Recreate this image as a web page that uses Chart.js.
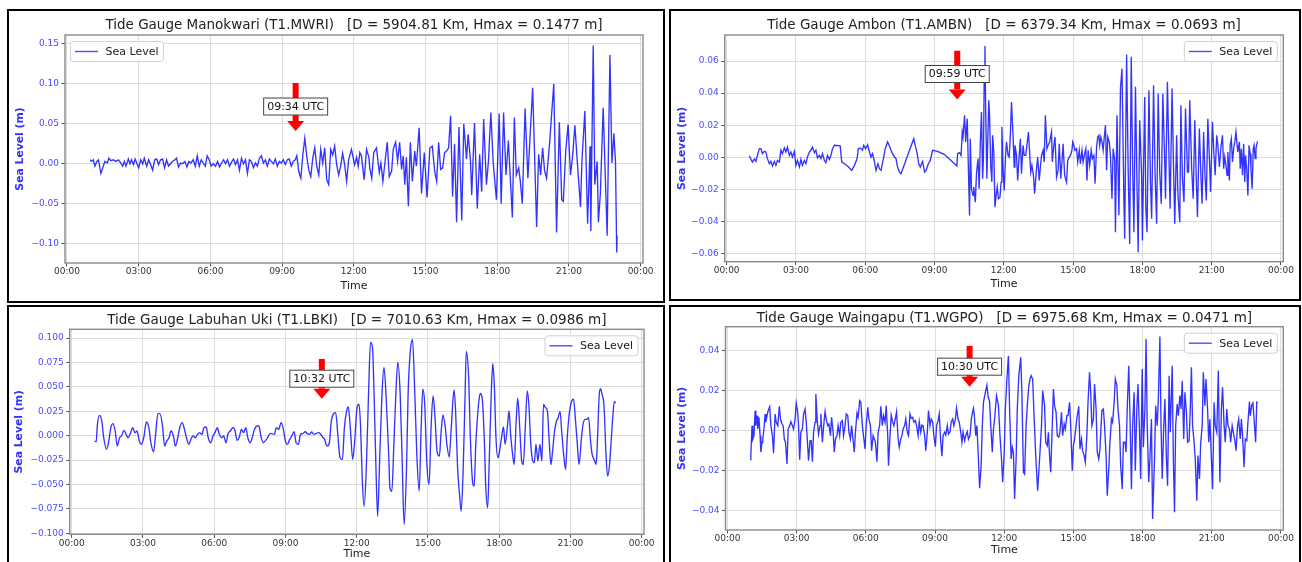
<!DOCTYPE html>
<html>
<head>
<meta charset="utf-8">
<script src="https://cdn.jsdelivr.net/npm/chart.js@4/dist/chart.umd.min.js"></script>
<style>
  body { margin: 0; width: 1302px; height: 562px; overflow: hidden; position: relative; background: #fff; }
  .box { position: absolute; border: 2px solid #000; box-sizing: border-box; }
  canvas { position: absolute; }
</style>
</head>
<body>
<div class="box" style="left:7px;top:9px;width:658px;height:294px"></div>
<div class="box" style="left:669px;top:9px;width:632px;height:292px"></div>
<div class="box" style="left:7px;top:305px;width:658px;height:270px"></div>
<div class="box" style="left:669px;top:305px;width:632px;height:270px"></div>
<canvas id="mwri" width="652" height="288" style="left:10px;top:12px"></canvas>
<canvas id="ambn" width="626" height="286" style="left:672px;top:12px"></canvas>
<canvas id="lbki" width="652" height="254" style="left:10px;top:308px"></canvas>
<canvas id="wgpo" width="626" height="254" style="left:672px;top:308px"></canvas>
<script>
// time axis (minutes after 00:00 UTC)
const X_TICKS = [0, 180, 360, 540, 720, 900, 1080, 1260, 1440];
const X_LABELS = ['00:00', '03:00', '06:00', '09:00', '12:00', '15:00', '18:00', '21:00', '00:00'];

// Manokwari
const MWRI_T = [58,62,66,70,75,79,85,90,95,101,
  105,110,116,123,129,135,140,144,148,154,
  158,162,167,171,175,180,185,190,194,200,
  205,210,215,220,225,230,235,240,245,250,
  255,260,265,271,275,280,285,290,296,301,
  306,311,317,322,327,332,337,342,347,352,
  357,362,367,373,378,383,388,393,398,403,
  408,413,418,423,428,433,438,443,448,453,
  458,463,468,473,478,483,488,493,498,503,
  508,513,518,523,528,533,538,543,548,553,
  558,563,568,573,577,582,587,592,597,602,
  607,612,617,622,627,632,637,642,647,652,
  657,662,667,672,677,682,687,692,697,702,
  707,714,722,727,731,735,739,746,752,758,
  760,765,770,777,784,788,793,798,804,809,
  815,819,825,830,835,840,844,848,852,857,
  862,867,873,877,884,890,897,904,911,917,
  923,928,933,938,943,948,953,958,963,968,
  973,978,984,991,996,1003,1007,1013,1016,1023,
  1030,1036,1041,1046,1053,1058,1064,1070,1078,1085,
  1090,1096,1102,1108,1118,1123,1128,1134,1138,1143,
  1150,1157,1163,1169,1179,1184,1189,1194,1199,1204,
  1212,1222,1229,1236,1242,1246,1252,1258,1264,1269,
  1275,1281,1289,1293,1300,1307,1313,1315,1321,1325,
  1331,1334,1339,1346,1356,1363,1368,1373,1377,1380,
  1381];
const MWRI_V = [0.005,0.003,0.005,-0.003,0.003,0.005,-0.012,-0.005,0.003,0.001,
  0.007,0.004,0.005,0.003,0.005,0.001,-0.003,0.003,-0.003,0.006,
  0.000,0.005,-0.001,0.006,0.001,-0.005,0.005,0.000,0.007,-0.003,
  0.005,-0.001,-0.008,0.005,0.006,-0.001,0.005,0.006,-0.005,0.005,
  -0.003,0.000,0.003,0.005,0.007,-0.004,0.001,0.000,0.003,-0.004,
  0.003,0.001,0.005,-0.003,0.010,-0.003,0.005,0.001,-0.003,0.010,
  0.005,-0.003,0.000,-0.003,0.003,-0.004,0.001,0.005,0.000,0.005,
  -0.003,0.002,0.006,-0.001,0.005,-0.008,0.007,0.000,0.005,-0.012,
  0.005,0.003,-0.005,0.001,-0.003,0.007,0.010,0.001,0.005,-0.003,
  0.006,0.003,0.000,0.006,-0.003,0.003,0.001,0.005,-0.001,0.005,
  0.006,-0.003,0.003,0.005,0.010,-0.010,-0.018,0.011,0.032,0.009,
  -0.008,-0.016,0.007,0.020,-0.003,-0.014,0.018,0.001,0.020,-0.020,
  -0.026,0.018,0.011,0.022,-0.001,-0.014,-0.003,0.013,-0.001,-0.022,
  0.005,0.018,-0.001,0.008,-0.003,0.014,0.010,-0.020,0.018,0.008,
  -0.005,-0.018,0.014,0.020,-0.011,0.001,-0.022,0.001,0.027,-0.016,
  -0.009,0.018,0.027,0.003,0.027,-0.007,0.010,-0.026,0.008,-0.053,
  0.027,-0.022,0.016,-0.003,0.045,-0.037,0.014,-0.042,0.020,0.022,
  -0.009,-0.022,0.027,-0.007,-0.005,0.014,0.016,0.020,0.060,-0.041,
  0.025,-0.073,0.046,-0.071,0.050,0.006,0.037,0.003,-0.039,0.051,
  -0.056,0.012,-0.035,0.056,-0.026,0.003,0.064,0.001,-0.045,0.063,
  -0.050,0.064,-0.014,0.029,-0.067,0.058,-0.014,-0.005,-0.022,-0.050,
  0.069,-0.018,0.039,0.095,-0.079,0.012,-0.014,0.020,-0.009,-0.018,
  0.029,0.100,-0.086,0.052,-0.045,-0.047,0.016,0.049,-0.014,0.008,
  0.048,0.003,-0.054,0.006,0.066,-0.075,0.022,-0.084,0.148,-0.026,
  0.003,-0.073,-0.037,0.070,-0.090,0.136,0.001,0.038,0.001,-0.111,
  -0.090];
const MWRI_TICKS = [-0.10, -0.05, 0, 0.05, 0.10, 0.15];

// Ambon
const AMBN_T = [59,63,67,72,76,80,85,89,93,98,
  102,106,111,115,119,124,128,132,137,141,
  145,150,154,158,163,167,171,176,180,184,
  189,193,197,202,206,210,215,219,223,228,
  232,236,241,245,249,254,258,262,267,271,
  275,280,295,299,306,314,325,332,339,342,
  347,353,356,361,366,371,375,379,384,388,
  393,397,401,408,412,418,422,427,431,436,
  440,444,449,453,486,490,495,499,503,509,
  514,518,524,529,535,548,566,583,598,600,
  605,609,612,614,618,621,625,628,631,633,
  636,640,642,646,649,653,656,659,662,665,
  667,669,671,673,676,678,681,683,686,689,
  691,694,697,700,703,706,710,713,715,718,
  721,725,727,731,734,737,740,744,747,749,
  753,756,760,763,766,770,773,777,780,784,
  787,790,793,797,800,805,808,812,815,818,
  822,825,828,832,835,839,844,846,850,853,
  857,861,864,868,871,874,878,883,886,890,
  893,897,899,902,905,909,912,916,919,923,
  926,929,933,936,939,943,947,950,954,957,
  961,964,967,969,972,975,978,981,984,987,
  990,994,997,1001,1004,1008,1010,1014,1019,1023,
  1027,1032,1034,1039,1043,1047,1051,1055,1058,1062,
  1066,1069,1073,1078,1080,1086,1089,1092,1097,1101,
  1104,1109,1113,1117,1121,1125,1129,1133,1138,1140,
  1145,1150,1152,1157,1161,1164,1169,1172,1177,1180,
  1184,1188,1192,1197,1200,1203,1208,1212,1216,1220,
  1223,1228,1232,1235,1239,1243,1246,1250,1255,1257,
  1262,1266,1269,1273,1276,1280,1284,1288,1291,1294,
  1297,1300,1302,1306,1308,1311,1314,1317,1320,1323,
  1326,1328,1332,1334,1337,1340,1343,1346,1348,1351,
  1354,1357,1360,1362,1365,1368,1370,1373,1375,1379];
const AMBN_V = [0.001,-0.001,-0.003,-0.001,-0.0025,0.0012,0.0054,0.0054,0.0023,0.0037,
  0.0033,-0.0008,-0.004,-0.0025,-0.0054,-0.0025,-0.005,-0.0019,-0.0029,0.0044,
  0.0023,0.0058,0.0033,0.0064,0.0012,0.0033,0.0002,0.0037,-0.005,-0.0019,
  -0.006,-0.0012,-0.005,-0.0019,-0.004,0.0002,0.0033,0.0044,0.0064,0.0029,
  0.0044,-0.0004,0.0012,-0.0008,0.0023,-0.0019,-0.0033,0.0012,-0.0012,0.0012,
  0.0054,0.0075,0.0071,-0.0029,-0.004,-0.0054,-0.0081,-0.005,-0.0008,0.0054,
  0.0058,0.0044,0.0075,0.0054,0.0079,0.0033,0.0002,0.0023,-0.0029,-0.0081,
  -0.004,-0.0071,-0.0081,0.0002,0.0054,0.0096,0.0075,0.0044,0.0023,0.0002,
  -0.0008,-0.006,-0.0092,-0.0102,0.0116,0.0075,0.0023,-0.004,-0.006,-0.0025,
  -0.0092,-0.0081,-0.004,-0.0019,0.0044,0.0037,0.0017,-0.0019,-0.0054,0.0023,
  0.0029,0.0012,0.0158,0.0127,0.0262,0.0096,0.0241,-0.0071,-0.0362,0.0116,
  -0.0196,-0.0237,-0.0185,-0.0279,-0.0102,-0.0008,-0.0196,0.0096,0.0283,-0.0133,
  -0.0008,0.047,0.0693,0.0283,-0.0133,0.0075,0.0356,0.0262,-0.005,-0.0154,
  0.0137,0.0033,-0.031,-0.0237,-0.0185,-0.0258,-0.0248,-0.0154,0.0189,-0.0071,
  -0.0206,0.0033,0.0096,0.0012,0.0002,0.0137,0.0345,0.0137,-0.006,0.0075,
  0.0012,-0.0144,0.0012,0.0116,-0.0102,0.0075,0.0012,0.0012,0.0075,0.0158,
  0.0033,-0.0092,-0.005,-0.0112,-0.0227,-0.0071,0.0002,-0.0144,-0.006,0.0012,
  0.0044,-0.0029,0.0262,0.0054,0.0075,0.0096,0.0158,-0.0029,0.0075,0.0127,
  -0.0123,-0.0081,0.0085,-0.0133,-0.0029,0.0085,-0.0112,-0.0154,-0.0019,0.0002,
  0.0012,0.0044,0.0096,0.0075,0.0044,0.0054,-0.0029,0.0044,-0.004,0.0044,
  -0.0029,0.0012,0.0054,-0.0144,0.0044,-0.005,0.0044,-0.0008,0.0012,-0.0164,
  0.0064,0.0127,0.0137,0.0075,0.0127,0.0096,0.0044,0.0127,0.020,-0.0081,
  0.0127,0.0096,0.0012,-0.0258,0.0054,-0.0019,-0.0466,0.0262,-0.036,0.0428,
  0.0553,-0.0279,-0.0507,0.0641,-0.0071,-0.0539,0.0626,-0.0112,-0.0466,0.0439,
  -0.0175,-0.0591,0.0231,-0.0112,-0.0518,0.0376,-0.032,-0.0466,0.0418,-0.0154,
  -0.0383,0.0449,-0.0112,-0.0414,0.0397,-0.0092,-0.0289,0.0397,-0.0029,-0.0258,
  0.047,-0.0112,-0.032,0.0428,-0.0071,-0.0414,0.0137,-0.0216,-0.0404,0.0324,
  -0.0133,-0.0279,0.0304,-0.0092,-0.0092,0.0356,-0.0071,-0.0258,0.0231,-0.0133,
  -0.0372,0.0179,-0.0112,-0.0289,0.0158,-0.0133,-0.0268,0.0241,-0.0071,-0.0216,
  0.022,0.0012,-0.0112,0.0137,0.0075,-0.006,0.0064,0.0137,-0.0071,0.0002,
  -0.005,-0.0112,0.0033,-0.0144,0.0075,0.0116,-0.0029,0.0054,0.0096,0.0158,
  0.0075,0.0033,0.0096,-0.0071,0.0054,-0.0112,0.0085,-0.0154,0.0012,-0.0071,
  -0.0237,0.0075,0.0023,-0.0071,-0.0196,0.0054,0.0075,-0.0008,0.0054,0.010];
const AMBN_TICKS = [-0.06, -0.04, -0.02, 0, 0.02, 0.04, 0.06];

// Labuhan Uki
const LBKI_T = [58,62,65,71,76,81,88,93,99,104,
  110,115,121,126,132,138,143,149,154,160,
  165,171,176,182,189,195,200,207,212,218,
  223,229,235,240,246,251,257,262,268,273,
  279,284,290,296,301,307,312,318,323,329,
  334,340,345,351,357,362,368,373,379,384,
  390,395,401,407,412,418,423,429,434,440,
  445,451,456,462,468,473,479,484,490,495,
  501,506,512,517,523,529,534,540,545,551,
  556,562,567,573,578,584,590,595,601,606,
  612,617,623,628,634,639,645,651,656,662,
  667,673,678,684,689,695,699,704,710,715,
  721,726,730,734,739,745,750,755,760,764,
  769,773,778,784,789,795,801,804,809,814,
  819,824,830,835,840,846,850,855,861,867,
  872,878,883,887,892,897,903,908,913,918,
  923,929,933,938,944,948,954,959,966,970,
  975,980,984,989,994,997,1003,1007,1012,1017,
  1021,1028,1032,1037,1043,1046,1051,1055,1060,1064,
  1068,1072,1077,1081,1086,1091,1095,1101,1105,1109,
  1114,1118,1123,1127,1132,1137,1141,1146,1151,1155,
  1160,1165,1169,1173,1178,1183,1188,1192,1197,1202,
  1206,1211,1215,1220,1225,1229,1234,1238,1243,1248,
  1252,1257,1262,1268,1273,1277,1282,1288,1292,1297,
  1301,1306,1311,1315,1320,1325,1328,1333,1336,1340,
  1345,1350,1354,1359,1363,1367,1371,1375];
const LBKI_V = [-0.0055,-0.0062,0.0116,0.0209,0.0151,-0.0021,-0.014,-0.0072,0.0082,0.0123,
  0.0048,-0.0106,-0.0021,-0.0003,0.0055,0.001,-0.0021,0.0031,0.0082,0.0031,
  0.0048,-0.0055,-0.0089,-0.0021,0.014,0.0082,-0.0072,-0.0164,0.0014,0.0226,
  0.0226,0.0116,-0.0106,-0.0055,-0.0021,0.0048,-0.0003,-0.0106,-0.0021,0.0082,
  0.0134,0.0082,-0.0021,-0.0089,-0.0038,-0.0003,-0.0021,0.0014,0.0031,0.0014,
  0.0082,0.0089,-0.0021,-0.0072,-0.0003,0.0031,0.0082,0.0014,-0.0021,-0.0003,
  -0.0072,0.0021,0.0048,0.0082,0.0065,-0.0048,-0.0021,0.0065,0.0031,0.0082,
  -0.0021,-0.0072,-0.0021,0.0065,0.0099,0.0099,-0.0021,-0.0072,-0.0048,-0.0021,
  0.0021,0.0021,0.0014,0.0082,0.0065,0.0134,0.0082,-0.0055,-0.0089,-0.0038,
  -0.0003,0.0041,-0.0072,-0.0089,0.0014,0.0021,0.0041,0.0021,0.0014,0.0038,
  0.0014,0.0021,0.0031,0.0021,-0.0014,-0.0038,-0.0106,-0.0072,0.0151,0.0226,
  0.0236,-0.0021,-0.0226,-0.0243,0.0082,0.026,0.0295,0.0082,-0.0243,-0.0055,
  0.0288,0.0322,0.0082,-0.0432,-0.0723,-0.026,0.0425,0.0956,0.0904,0.0425,
  -0.0363,-0.0825,-0.026,0.0425,0.0699,0.0356,-0.0192,-0.0534,-0.0569,-0.0089,
  0.0425,0.075,0.0425,-0.026,-0.0911,-0.0329,0.0425,0.0836,0.0986,0.0425,
  -0.0192,-0.0569,0.0082,0.0476,0.0322,-0.026,-0.05,0.0082,0.0408,0.0185,
  -0.0158,-0.0209,0.0014,0.0212,0.0082,-0.0089,-0.0219,0.0082,0.0469,0.0253,
  -0.0329,-0.0603,-0.0774,-0.0363,0.0425,0.0863,0.0596,0.0014,-0.0432,-0.0517,
  -0.0089,0.0322,0.0432,0.039,-0.0089,-0.05,-0.074,-0.026,0.0425,0.074,
  0.0493,-0.0021,-0.0226,-0.0158,-0.0021,0.0089,-0.0089,0.0099,0.0253,0.0014,
  -0.0192,-0.0295,0.0151,0.0384,0.0082,-0.026,-0.0295,0.0082,0.0459,0.0322,
  -0.0089,-0.026,-0.0277,-0.0089,-0.026,-0.0089,-0.026,0.0322,0.0288,0.0253,
  -0.0021,-0.0295,-0.0158,0.0048,0.0151,0.0185,0.0247,0.0048,-0.0192,-0.0346,
  -0.0021,0.0219,0.0339,0.0373,0.0151,-0.0055,-0.0295,-0.0021,0.0116,0.0168,
  0.0168,0.0185,-0.0055,-0.0192,-0.0243,-0.0295,-0.0089,0.0425,0.0483,0.0425,
  0.0305,-0.0192,-0.0414,-0.0295,-0.0055,0.0185,0.0349,0.0336];
const LBKI_TICKS = [-0.1, -0.075, -0.05, -0.025, 0, 0.025, 0.05, 0.075, 0.1];

// Waingapu
const WGPO_T = [59,61,64,66,69,72,74,77,79,82,
  85,87,90,92,95,98,100,103,106,110,
  113,117,120,124,127,131,135,138,142,145,
  148,151,155,158,162,165,169,172,176,179,
  183,185,188,191,195,198,202,205,208,211,
  215,218,221,224,228,230,234,237,241,243,
  247,250,254,257,261,264,268,271,275,278,
  281,285,288,292,295,299,302,306,309,313,
  316,320,323,327,330,333,337,340,344,347,
  351,354,358,361,365,368,372,375,379,382,
  385,389,392,396,399,403,406,410,413,417,
  419,423,426,430,433,437,440,444,447,451,
  454,457,461,464,468,471,475,478,482,485,
  489,492,496,499,503,506,509,513,516,520,
  523,527,530,534,537,541,544,548,551,555,
  558,561,565,568,572,575,579,582,586,589,
  593,596,600,603,607,610,613,617,620,624,
  627,631,635,640,642,646,649,653,656,660,
  663,666,671,675,678,682,685,689,692,695,
  700,705,709,713,716,720,723,727,731,734,
  738,741,744,747,751,754,758,763,766,770,
  773,777,780,784,787,790,794,798,802,807,
  812,817,820,825,828,832,835,838,841,845,
  848,851,855,858,862,865,869,872,876,879,
  883,886,890,893,897,900,903,907,910,914,
  917,921,924,928,931,935,938,942,945,948,
  952,955,959,962,966,969,974,978,981,985,
  988,992,995,999,1002,1006,1009,1013,1016,1020,
  1023,1027,1030,1034,1037,1040,1044,1047,1051,1054,
  1058,1061,1065,1068,1072,1075,1079,1082,1086,1089,
  1092,1096,1099,1103,1106,1111,1114,1118,1121,1125,
  1128,1131,1135,1138,1142,1145,1149,1152,1157,1160,
  1163,1166,1170,1173,1177,1180,1183,1187,1190,1194,
  1197,1201,1204,1207,1210,1214,1217,1221,1224,1228,
  1231,1235,1238,1242,1245,1249,1252,1255,1259,1262,
  1266,1269,1273,1277,1281,1285,1288,1292,1295,1299,
  1302,1306,1309,1313,1316,1320,1323,1327,1330,1334,
  1337,1340,1344,1347,1351,1354,1358,1360,1364,1367,
  1370,1374,1377,1380];
const WGPO_V = [-0.0145,-0.0117,0.0025,-0.0042,-0.0025,0.010,0.0025,0.0075,0.0008,0.0067,
  -0.0025,-0.0108,-0.0058,-0.0042,0.0008,0.0083,0.0042,0.0075,0.010,0.012,
  0.0025,-0.0025,-0.0113,0.0083,0.0042,0.0025,0.0122,0.0058,0.0033,0.0025,
  -0.0042,-0.0058,-0.0167,0.0008,0.0025,0.0045,0.0025,0.0008,0.0058,0.0138,
  0.0092,0.0025,-0.0145,-0.0008,0.0008,0.0083,0.0108,0.0042,-0.005,-0.015,
  -0.005,-0.005,-0.0155,-0.0008,0.0042,0.0183,0.0042,-0.0017,0.0025,0.0083,
  -0.0058,0.0017,0.0095,0.0058,0.0025,0.0033,-0.0025,0.0067,-0.0008,-0.0108,
  -0.0042,-0.0025,0.0025,-0.0025,0.0042,0.005,-0.0025,0.0025,0.0083,0.0075,
  -0.0008,-0.0042,0.0025,-0.005,-0.0108,-0.0008,0.0088,0.0067,0.015,0.0142,
  0.0025,-0.0025,-0.0092,0.0025,0.0117,0.0058,0.0025,-0.010,-0.0025,-0.0042,
  -0.0058,-0.0155,-0.0008,0.0028,0.0122,0.0025,0.0075,0.0042,0.0125,-0.0025,
  -0.0175,-0.0025,0.0078,0.0042,0.0025,0.0062,0.0095,-0.0042,-0.0083,-0.0042,
  -0.0025,0.0008,0.0025,0.0058,-0.0008,-0.0025,0.0083,0.0062,0.0067,0.0042,
  0.005,0.0025,-0.0025,0.0045,-0.0008,0.0028,0.0025,-0.0025,-0.010,-0.0008,
  0.010,0.0025,0.0058,0.0042,-0.0025,-0.008,0.0025,0.005,0.0083,-0.0058,
  -0.0128,-0.0025,-0.0008,-0.0022,0.0025,-0.0017,-0.0005,0.0042,0.0058,0.0025,
  0.0058,0.0112,0.0058,0.0042,-0.0008,-0.0058,-0.0008,-0.005,-0.0025,-0.0005,
  -0.0042,-0.0025,0.0067,0.0112,0.0083,-0.0025,0.0025,-0.0142,-0.0288,-0.0175,
  0.0025,0.0142,0.0192,0.0228,0.0172,0.0145,0.0025,-0.0108,0.0008,0.0058,
  0.0175,0.0125,-0.0025,-0.0142,-0.0258,-0.0108,0.0108,0.0258,0.0375,0.0108,
  -0.0142,-0.0083,-0.0108,-0.0342,-0.0142,0.0108,0.0275,0.0367,0.0192,-0.0208,
  -0.0217,0.0025,0.0125,0.0225,0.0258,0.0275,0.0258,0.0058,-0.0125,-0.030,
  -0.0142,0.0025,0.020,0.0125,-0.0058,-0.0075,-0.0008,-0.0125,-0.0208,0.0025,
  0.0208,0.0125,0.0092,-0.0025,-0.0033,-0.0008,0.0092,-0.0025,0.0033,0.0008,
  0.0075,0.0075,0.0142,0.0025,-0.020,-0.0075,-0.0042,0.0025,0.0075,0.0122,
  -0.0092,-0.0042,-0.010,-0.0125,-0.0158,-0.0025,0.0142,0.0292,0.0192,0.0025,
  0.0058,0.0233,0.0108,-0.0108,-0.0142,-0.0092,0.010,0.0108,0.0025,-0.0125,
  -0.0325,-0.0192,-0.0058,0.0058,0.0042,0.0142,0.0258,0.0225,0.0108,0.0025,
  -0.0175,-0.0292,-0.0058,-0.0058,-0.0108,0.0108,0.0325,0.0092,-0.0292,0.0025,
  0.0192,-0.020,0.0108,0.0233,-0.0008,-0.0242,0.0308,-0.0083,0.0108,0.0458,
  0.0025,-0.0258,-0.0142,0.0058,-0.0442,-0.0142,0.0125,0.0025,0.0158,0.0471,
  0.0025,-0.0242,0.0025,0.0158,-0.0142,-0.0275,0.0275,-0.0008,0.0325,-0.0142,
  -0.0408,0.0025,0.0133,0.0075,0.0175,0.0108,0.025,-0.0042,0.0192,0.0092,
  -0.0058,-0.005,0.0108,0.0317,0.0025,-0.0058,-0.0142,-0.035,-0.0125,-0.0242,
  -0.0067,0.0025,0.0292,0.0125,0.0258,0.0108,-0.0058,0.0058,-0.0142,-0.0292,
  0.0142,0.0025,-0.0008,0.030,-0.0258,0.0108,0.0217,0.0025,-0.0058,0.0108,
  0.0025,0.0008,-0.0058,0.0025,-0.0008,-0.005,-0.010,0.0025,0.0058,-0.0042,
  0.0058,-0.0025,-0.0183,-0.0042,-0.005,0.0042,0.0145,0.0075,0.0128,0.0138,
  0.0058,-0.0058,0.0142,0.0138];
const WGPO_TICKS = [-0.04, -0.02, 0, 0.02, 0.04];

Chart.defaults.font.family = "'DejaVu Sans', sans-serif";

// plot frame (matplotlib spines)
const frame = {
  id: 'frame',
  afterDraw(chart) {
    const { ctx, chartArea: a } = chart;
    ctx.save();
    ctx.strokeStyle = '#8a8a8a';
    ctx.lineWidth = 1.4;
    ctx.strokeRect(a.left, a.top, a.right - a.left, a.bottom - a.top);
    ctx.restore();
  }
};

// red arrow with the arrival time label
const arrival = {
  id: 'arrival',
  afterDatasetsDraw(chart, args, o) {
    const { ctx, scales: { x, y } } = chart;
    const px = x.getPixelForValue(o.t);
    const y0 = y.getPixelForValue(o.top);
    const y1 = y.getPixelForValue(o.tip);
    const yl = y.getPixelForValue(o.label);
    ctx.save();
    ctx.fillStyle = '#ff0000';
    ctx.fillRect(px - 3, y0, 6, y1 - 10 - y0);
    ctx.beginPath();
    ctx.moveTo(px - 8.5, y1 - 10);
    ctx.lineTo(px + 8.5, y1 - 10);
    ctx.lineTo(px, y1);
    ctx.closePath();
    ctx.fill();
    ctx.font = "11px 'DejaVu Sans'";
    const w = ctx.measureText(o.text).width + 7;
    const h = 17;
    ctx.fillStyle = '#fff';
    ctx.fillRect(px - w / 2, yl - h / 2, w, h);
    ctx.strokeStyle = '#444';
    ctx.lineWidth = 1;
    ctx.strokeRect(px - w / 2, yl - h / 2, w, h);
    ctx.fillStyle = '#111';
    ctx.textAlign = 'center';
    ctx.textBaseline = 'middle';
    ctx.fillText(o.text, px, yl + 0.5);
    ctx.restore();
  }
};

// legend box drawn inside the plot, like matplotlib
const innerLegend = {
  id: 'innerLegend',
  afterDatasetsDraw(chart, args, o) {
    const { ctx, chartArea: a } = chart;
    const w = 93, h = 20;
    const left = o.side === 'left' ? a.left + 5.5 : a.right - 6 - w;
    const top = a.top + 6.5;
    ctx.save();
    ctx.fillStyle = 'rgba(255,255,255,0.85)';
    ctx.strokeStyle = '#d0d0d0';
    ctx.lineWidth = 1;
    ctx.beginPath();
    ctx.roundRect(left, top, w, h, 3);
    ctx.fill();
    ctx.stroke();
    ctx.strokeStyle = 'rgba(0,0,255,0.7)';
    ctx.lineWidth = 1.4;
    ctx.beginPath();
    ctx.moveTo(left + 4.5, top + h / 2);
    ctx.lineTo(left + 27.5, top + h / 2);
    ctx.stroke();
    ctx.fillStyle = '#222';
    ctx.font = "11px 'DejaVu Sans'";
    ctx.textBaseline = 'middle';
    ctx.fillText(chart.data.datasets[0].label, left + 35, top + h / 2 + 0.5);
    ctx.restore();
  }
};

function fmt(v, dec) {
  return v.toFixed(dec).replace('-', '\u2212');
}

function drawPanel(p) {
  const L = p.layout;
  new Chart(document.getElementById(p.id), {
    type: 'line',
    data: {
      datasets: [{
        label: 'Sea Level',
        data: p.t.map((t, i) => ({ x: t, y: p.v[i] })),
        borderColor: 'rgba(0,0,255,0.8)',
        borderWidth: 1.35,
        pointRadius: 0,
        fill: false,
        tension: 0,
        cubicInterpolationMode: p.smooth ? 'monotone' : 'default'
      }]
    },
    options: {
      responsive: false,
      animation: false,
      events: [],
      layout: { padding: { left: 0, right: L.pr, top: 0, bottom: 0 } },
      plugins: {
        legend: { display: false },
        tooltip: { enabled: false },
        title: {
          display: true, text: p.title, fullSize: false, color: '#222',
          font: { size: 13.5, weight: 'normal' },
          padding: { top: L.tt, bottom: L.tb }
        },
        arrival: p.arrow,
        innerLegend: { side: p.legendSide }
      },
      scales: {
        x: {
          type: 'linear', min: -5, max: 1446,
          afterBuildTicks: s => { s.ticks = X_TICKS.map(v => ({ value: v })); },
          afterFit: s => { s.height = L.xh; },
          grid: { color: '#dcdcdc', lineWidth: 1, tickLength: 3.5, tickColor: '#555' },
          border: { display: false },
          ticks: {
            color: '#333', font: { size: 9 }, padding: 0, maxRotation: 0, autoSkip: false,
            callback: (v, i) => X_LABELS[i]
          },
          title: { display: true, text: 'Time', color: '#222', font: { size: 11 }, padding: { top: 0, bottom: L.xtp } }
        },
        y: {
          type: 'linear', min: p.yMin, max: p.yMax,
          afterBuildTicks: s => { s.ticks = p.ticks.map(v => ({ value: v })); },
          afterFit: s => { s.width = L.yw; },
          grid: { color: '#dcdcdc', lineWidth: 1, tickLength: 3.5, tickColor: '#555' },
          border: { display: false },
          ticks: { color: '#4b4bff', font: { size: 9 }, padding: 2.5, callback: v => fmt(v, p.dec) },
          title: { display: true, text: 'Sea Level (m)', color: '#3030ff', font: { size: 10.8, weight: 'bold' }, padding: { top: L.ytt, bottom: 0 } }
        }
      }
    },
    plugins: [frame, arrival, innerLegend]
  });
}

document.addEventListener('DOMContentLoaded', function () {
  drawPanel({
    id: 'mwri', title: 'Tide Gauge Manokwari (T1.MWRI)   [D = 5904.81 Km, Hmax = 0.1477 m]',
    t: MWRI_T, v: MWRI_V, ticks: MWRI_TICKS, dec: 2, yMin: -0.124, yMax: 0.161,
    arrow: { t: 574, top: 0.101, tip: 0.041, label: 0.0716, text: '09:34 UTC' },
    legendSide: 'left',
    layout: { tt: 4.9, tb: 1.9, yw: 55, pr: 19, xh: 37, ytt: 3.9, xtp: 7.7 }
  });
  drawPanel({
    id: 'ambn', title: 'Tide Gauge Ambon (T1.AMBN)   [D = 6379.34 Km, Hmax = 0.0693 m]',
    t: AMBN_T, v: AMBN_V, ticks: AMBN_TICKS, dec: 2, yMin: -0.065, yMax: 0.0762,
    arrow: { t: 599, top: 0.0664, tip: 0.0361, label: 0.0519, text: '09:59 UTC' },
    legendSide: 'right',
    layout: { tt: 4.9, tb: 1.9, yw: 52.7, pr: 14.7, xh: 36.3, ytt: 3.9, xtp: 7.4 }
  });
  drawPanel({
    id: 'lbki', title: 'Tide Gauge Labuhan Uki (T1.LBKI)   [D = 7010.63 Km, Hmax = 0.0986 m]',
    t: LBKI_T, v: LBKI_V, ticks: LBKI_TICKS, dec: 3, yMin: -0.101, yMax: 0.109, smooth: true,
    arrow: { t: 632, top: 0.0786, tip: 0.0379, label: 0.0584, text: '10:32 UTC' },
    legendSide: 'right',
    layout: { tt: 4.6, tb: 0.5, yw: 59.7, pr: 18, xh: 27.7, ytt: 2.6, xtp: 1.1 }
  });
  drawPanel({
    id: 'wgpo', title: 'Tide Gauge Waingapu (T1.WGPO)   [D = 6975.68 Km, Hmax = 0.0471 m]',
    t: WGPO_T, v: WGPO_V, ticks: WGPO_TICKS, dec: 2, yMin: -0.0497, yMax: 0.052,
    arrow: { t: 630, top: 0.0424, tip: 0.0219, label: 0.032, text: '10:30 UTC' },
    legendSide: 'right',
    layout: { tt: 2.2, tb: 0.3, yw: 53.5, pr: 14.7, xh: 32, ytt: 3.9, xtp: 5.4 }
  });
});
</script>
</body>
</html>
